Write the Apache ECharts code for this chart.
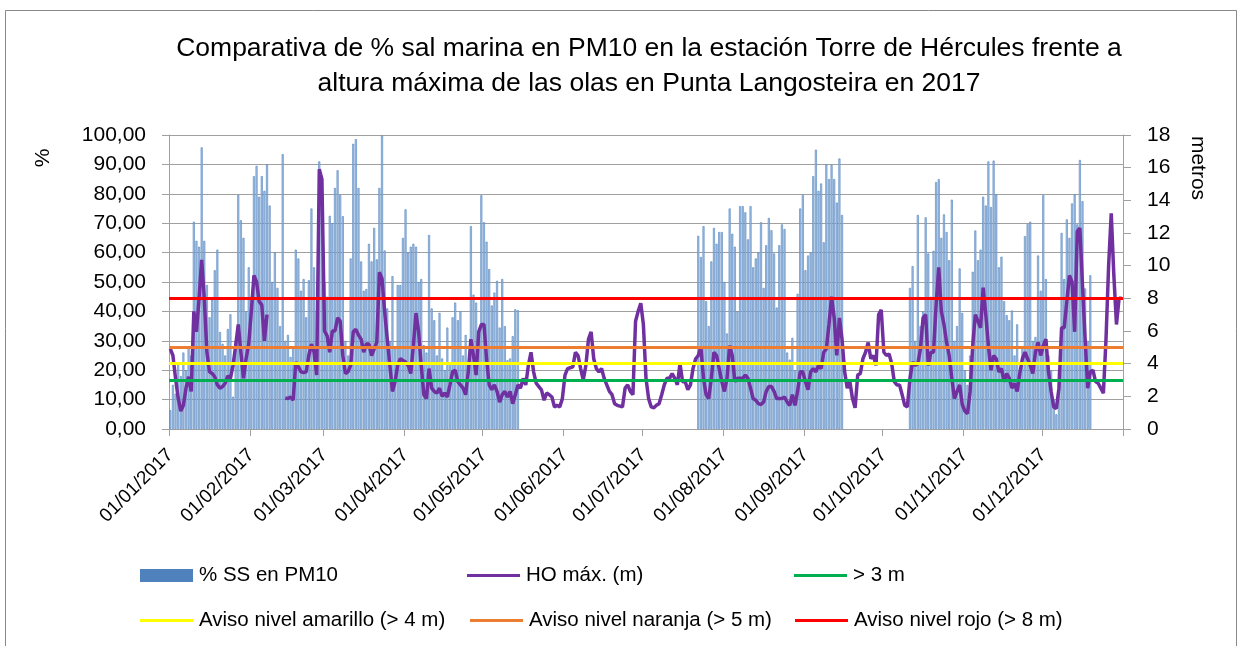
<!DOCTYPE html>
<html><head><meta charset="utf-8">
<script src="https://cdn.jsdelivr.net/npm/echarts@6/dist/echarts.min.js"></script>
<style>html,body{margin:0;padding:0;background:#fff}#c{width:1243px;height:646px}</style>
</head><body><div id="c"></div>
<script>
const year = 2017;
const monthDays = [31,28,31,30,31,30,31,31,30,31,30,31];
const n = null;
// % SS en PM10 (daily)
const salJan = [6.4,15,12,22,18,26,20,28,25,70.5,64,62,95.8,64,49,38,44,54,61,33,29,25,34,39,11,30,79.6,71,65,40,55];
const salFeb = [45,86,89.5,79,86,81,90,76,50,60,48,35,93.5,30,32,24.5,28,61,58,47,51,38,50.6,75,55,40,91,86];
const salMar = [50,45,72.5,70,82,88,79.6,72.4,30,25,58,97,98.6,82,57,47,47.6,63,57,68.4,57.7,82,99.8,60.7,41,30,52,28,49,49,65];
const salApr = [74.7,60,62,63,62,50,51,28.5,26,66,41,37,25,39.5,24,20,34.5,22,38,43,37,40,25,32,20,69,45.7,43,30,79.5];
const salMay = [70.3,63.7,54.4,42,46.4,50.4,34.5,51,35,23.4,24,31.6,40.7,40.4,n,n,n,n,n,n,n,n,n,n,n,n,n,n,n,n,n];
const salJun = [n,n,n,n,n,n,n,n,n,n,n,n,n,n,n,n,n,n,n,n,n,n,n,n,n,n,n,n,n,n];
const salJul = [n,n,n,n,n,n,n,n,n,n,n,n,n,n,n,n,n,n,n,n,n,65.7,58.5,69,43.5,35,57,68.4,63,67,67];
const salAug = [50,32.5,75,66.4,62,40,75.8,75.8,73.7,64.5,75.8,55,58,60,70.3,48,62.5,71.8,67.6,59.7,41.3,62.5,69.6,68,26,23.6,31,20,46,75,79.6];
const salSep = [54,59,60,86,95,81,83.5,63.5,90,85,89.8,85,77,92,72.8,n,n,n,n,n,n,n,n,n,n,n,n,n,n,n];
const salOct = [n,n,n,n,n,n,n,n,n,n,48,55.4,30,72.8,35,40,72,59.7,45,60.6,84,85,65,73,67,57.4,78,30,35,54.6,39.5];
const salNov = [20,15,25,53.5,67.5,57.4,61,79,76,91,75.5,91.3,79.8,55,58.6,43.5,38.7,37,40.3,25,35.6,20,28,65.6,69.7,70.5,30,31.3,59,47];
const salDec = [79.6,51,25,20,10,5,20,66.7,51,71.3,65,76.7,79.8,69.6,91.5,77.5,47.8,30,52.3,n,n,n,n,n,n,n,n,n,n,n,n];
// HO máx. (m) daily
const hoJan = [4.9,4.5,3.1,1.9,1.1,1.45,2.5,3.2,2.3,7.2,5.95,8,10.35,8,4.7,3.5,3.4,3.2,2.7,2.5,2.6,2.8,3.25,3.1,3.9,5.1,6.4,4.7,3.1,4.3,5.2];
const hoFeb = [7.2,9.4,9.0,7.8,7.6,5.4,7.0,n,n,n,n,n,n,1.9,1.86,1.96,1.76,4.1,3.8,3.5,3.45,3.5,4.5,5.2,4.7,3.3,15.9,15.3];
const hoMar = [6.0,5.7,4.7,6.0,6.0,6.8,6.6,4.5,3.4,3.5,3.9,5.95,6.1,5.75,5.5,4.7,5.2,5.2,4.5,4.9,5.3,9.6,9.2,7.2,5.5,3.9,2.3,2.9,3.9,4.3,4.2];
const hoApr = [4.1,3.9,3.4,5.1,7.1,5.95,3.9,2.1,1.86,3.7,2.5,2.3,2.2,2.5,2.0,2.2,1.96,2.7,3.5,3.6,2.9,2.7,2.5,2.1,3.5,5.5,4.5,3.3,5.95,6.4];
const hoMay = [6.4,4.3,2.7,2.4,2.7,2.3,1.65,2.1,2.3,1.96,2.3,1.55,2.1,2.7,2.5,3.1,2.7,3.9,4.7,3.5,2.8,2.6,2.4,1.76,2.2,2.1,1.96,1.35,1.45,1.35,1.86];
const hoJun = [3.3,3.7,3.75,3.8,4.7,4.5,3.7,3.0,3.9,5.5,5.95,4.3,3.7,3.5,3.7,3.1,2.7,2.3,2.1,1.55,1.45,1.4,1.35,2.5,2.7,2.3,2.1,6.6,7.2,7.7];
const hoJul = [6.4,3.1,1.86,1.35,1.3,1.45,1.55,2.1,2.7,3.1,3.1,3.4,3.1,2.7,4.0,2.9,2.9,2.4,2.7,3.7,4.3,4.5,5.0,3.1,2.1,1.86,3.1,4.7,4.5,3.7,2.9];
const hoAug = [2.3,3.1,5.1,4.5,2.9,3.1,3.1,3.1,3.3,3.1,2.5,1.86,1.76,1.55,1.5,1.65,2.3,2.6,2.6,2.3,1.86,1.86,1.86,1.96,1.65,1.45,2.1,1.45,2.3,3.5,3.5];
const hoSep = [2.9,2.4,3.5,3.7,3.5,3.9,3.7,4.7,4.9,6.4,8.1,6.8,4.5,6.8,5.5,3.5,2.5,2.9,1.86,1.3,3.3,3.4,4.3,4.7,5.3,4.3,4.5,3.9,7.0,7.3];
const hoOct = [4.7,4.5,4.6,4.0,2.9,2.7,2.7,2.1,1.45,1.35,3.1,4.1,3.9,4.0,4.9,6.8,7.0,3.9,4.7,4.7,7.6,9.9,7.2,6.4,5.3,4.5,3.1,1.86,2.3,2.7,1.5];
const hoNov = [1.1,0.94,2.3,5.1,7.0,6.6,6.2,8.65,7.0,5.1,3.6,4.5,4.3,3.5,3.7,2.9,3.4,3.1,2.5,2.8,2.3,3.4,4.3,4.7,4.3,3.9,3.4,4.7,5.3,4.5];
const hoDec = [5.1,5.5,3.5,2.3,1.35,1.25,2.5,6.2,6.2,7.8,9.4,9.0,5.95,12.1,12.3,8.8,5.5,2.5,3.5,3.6,2.9,2.8,2.5,2.2,5.5,10.0,13.2,9.4,6.4,8.0,8.0];
// thresholds (m)
const thresholdNames = ['> 3 m','Aviso nivel amarillo (> 4 m)','Aviso nivel naranja (> 5 m)','Aviso nivel rojo (> 8 m)'];
const thresholdValues = [3,4,5,8];
const thresholdColors = ['#00B050','#FFFF00','#ED7D31','#FF0000'];
const leftTicks = {min:0,max:100,interval:10};
const rightTicks = {min:0,max:18,interval:2};

const sal = [].concat(salJan,salFeb,salMar,salApr,salMay,salJun,salJul,salAug,salSep,salOct,salNov,salDec);
const ho = [].concat(hoJan,hoFeb,hoMar,hoApr,hoMay,hoJun,hoJul,hoAug,hoSep,hoOct,hoNov,hoDec);
const cats = [], monthStart = [];
monthDays.forEach((d,m)=>{for(let i=1;i<=d;i++){cats.push(String(i).padStart(2,'0')+'/'+String(m+1).padStart(2,'0')+'/'+year);monthStart.push(i===1);}});

const FONT = 'Liberation Sans';
const GRAY = '#A0A0A0';
const chart = echarts.init(document.getElementById('c'));
const series = [
  {name:'% SS en PM10',type:'bar',data:sal,barWidth:2,itemStyle:{color:'#A9C5E5',borderColor:'#4F81BD',borderWidth:0.6},z:2},
  {name:'HO máx. (m)',type:'line',yAxisIndex:1,data:ho,symbol:'none',showSymbol:false,connectNulls:false,lineStyle:{color:'#7030A0',width:3.5},itemStyle:{color:'#7030A0'},z:3}
];
thresholdNames.forEach((nm,i)=>{
  series.push({name:nm,type:'line',yAxisIndex:1,data:[],symbol:'none',showSymbol:false,
    lineStyle:{color:thresholdColors[i],width:3},itemStyle:{color:thresholdColors[i]},z:4,
    markLine:{silent:true,symbol:'none',label:{show:false},lineStyle:{color:thresholdColors[i],width:3,type:'solid'},data:[{yAxis:thresholdValues[i]}]}});
});
const legColors = ['#4F81BD','#7030A0'].concat(thresholdColors);
const legendPos = [[135,560],[462,560],[789,560],[135,605],[465,605],[790,605]];
const legNames = ['% SS en PM10','HO máx. (m)'].concat(thresholdNames);
const legends = legNames.map((nm,i)=>({
  left:legendPos[i][0],top:legendPos[i][1],orient:'horizontal',
  itemWidth:53,itemHeight:i===0?13:3,selectedMode:false,
  data:[{name:nm,icon:'rect',itemStyle:{color:legColors[i],borderWidth:0}}],
  textStyle:{fontFamily:FONT,fontSize:20.5,color:'#000',padding:[0,0,0,1]}
}));
chart.setOption({
  animation:false,
  backgroundColor:'#fff',
  title:{text:'Comparativa de % sal marina en PM10 en la estación Torre de Hércules frente a\naltura máxima de las olas en Punta Langosteira en 2017',
    left:644,top:26,textAlign:'center',
    textStyle:{fontFamily:FONT,fontSize:26.5,fontWeight:'normal',color:'#000',lineHeight:35}},
  legend:legends,
  grid:{left:169,right:120,top:135,bottom:217,containLabel:false},
  xAxis:{type:'category',data:cats,boundaryGap:true,
    axisLine:{lineStyle:{color:GRAY,width:1}},
    axisTick:{show:true,length:7,lineStyle:{color:GRAY},interval:(i)=>monthStart[i]},
    axisLabel:{interval:(i)=>monthStart[i],rotate:45,margin:23,fontFamily:FONT,fontSize:19,color:'#000'}},
  yAxis:[
    {type:'value',min:leftTicks.min,max:leftTicks.max,interval:leftTicks.interval,
     axisLine:{show:true,lineStyle:{color:GRAY}},axisTick:{show:true,length:7,lineStyle:{color:GRAY}},
     splitLine:{show:true,lineStyle:{color:GRAY,width:1}},
     axisLabel:{margin:23,fontFamily:FONT,fontSize:21,color:'#000',formatter:(v)=>v.toFixed(2).replace('.',',')}},
    {type:'value',min:rightTicks.min,max:rightTicks.max,interval:rightTicks.interval,position:'right',
     axisLine:{show:true,lineStyle:{color:GRAY}},axisTick:{show:true,length:8,lineStyle:{color:GRAY}},
     splitLine:{show:false},
     axisLabel:{margin:24,fontFamily:FONT,fontSize:21,color:'#000'}}
  ],
  graphic:[
    {type:'rect',shape:{x:5.5,y:10.5,width:1231,height:700},style:{fill:'none',stroke:'#898989',lineWidth:1},silent:true,z:-10},
    {type:'text',x:43,y:158,rotation:Math.PI/2,style:{text:'%',fontFamily:FONT,fontSize:21,fill:'#000',align:'center',verticalAlign:'middle'}},
    {type:'text',x:1198,y:168,rotation:-Math.PI/2,style:{text:'metros',fontFamily:FONT,fontSize:21,fill:'#000',align:'center',verticalAlign:'middle'}}
  ],
  series:series
});
</script></body></html>
